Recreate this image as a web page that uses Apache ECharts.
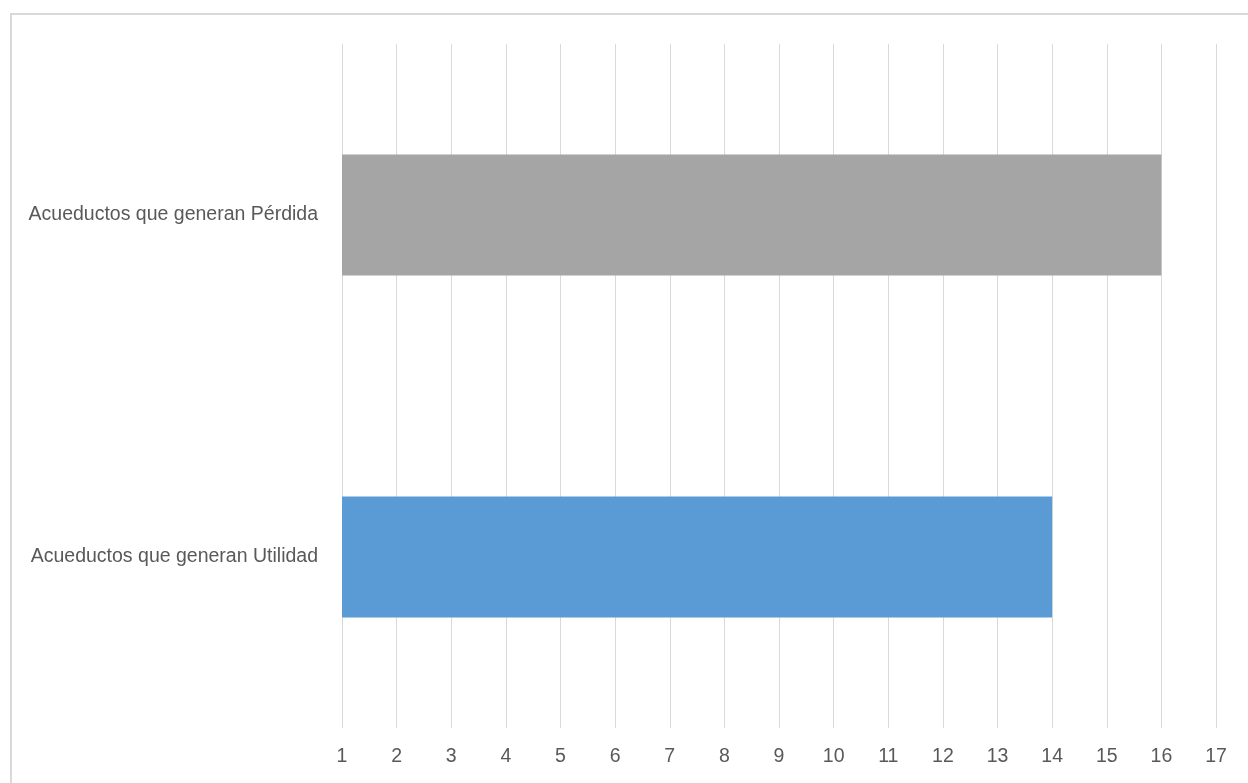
<!DOCTYPE html>
<html>
<head>
<meta charset="utf-8">
<script src="https://cdn.jsdelivr.net/npm/echarts@6/dist/echarts.min.js"></script>
<style>
  html, body { margin: 0; padding: 0; background: #ffffff; }
  #chart { width: 1248px; height: 783px; }
</style>
</head>
<body>
<div id="chart"></div>
<script>
// Acueductos: number of utilities with loss vs. profit
const categories = ['Acueductos que generan Utilidad', 'Acueductos que generan Pérdida'];
const values = [14, 16];
const barColors = ['#5B9BD5', '#A5A5A5'];
const axisMin = 1;
const axisMax = 17;

const chart = echarts.init(document.getElementById('chart'), null, { renderer: 'canvas' });
const fontFamily = '"Liberation Sans", Arial, sans-serif';

chart.setOption({
  animation: false,
  backgroundColor: '#ffffff',
  graphic: [{
    type: 'rect',
    shape: { x: 11, y: 14, width: 1260, height: 800 },
    style: { fill: 'none', stroke: '#d9d9d9', lineWidth: 2 },
    silent: true
  }],
  grid: { left: 342, right: 32, top: 44, bottom: 55, containLabel: false, outerBoundsMode: 'none' },
  xAxis: {
    type: 'value',
    min: axisMin,
    max: axisMax,
    interval: 1,
    axisLine: { show: false },
    axisTick: { show: false },
    splitLine: { show: true, lineStyle: { color: '#d9d9d9', width: 1 } },
    axisLabel: { color: '#595959', fontSize: 19.5, fontFamily: fontFamily, margin: 19 }
  },
  yAxis: {
    type: 'category',
    data: categories,
    axisLine: { show: false },
    axisTick: { show: false },
    splitLine: { show: false },
    axisLabel: { color: '#595959', fontSize: 19.5, fontFamily: fontFamily, margin: 24 }
  },
  series: [{
    type: 'bar',
    data: values.map((v, i) => ({ value: v, itemStyle: { color: barColors[i] } })),
    barWidth: 121
  }]
});
</script>
</body>
</html>
